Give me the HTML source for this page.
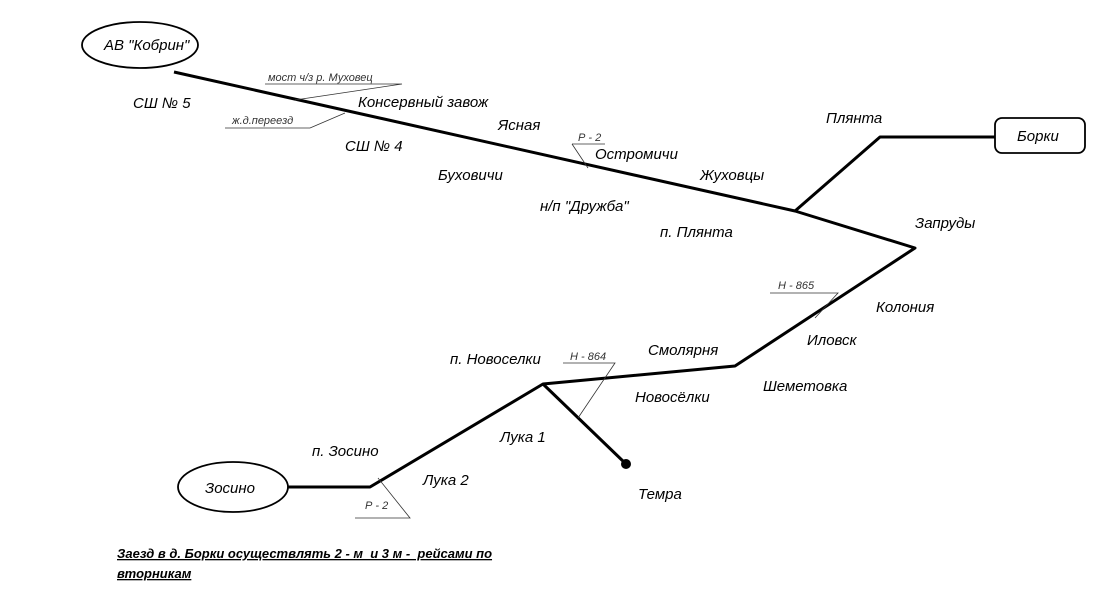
<!DOCTYPE html>
<html><head><meta charset="utf-8"><style>
html,body{margin:0;padding:0;background:#fff;}
svg{display:block;}
text{font-family:"Liberation Sans",Arial,sans-serif;font-style:italic;fill:#000;white-space:pre;}
.l{font-size:15px;}
.s{font-size:11px;fill:#333;}
.b{font-size:13px;font-weight:bold;text-decoration:underline;}
</style></head><body>
<svg width="1100" height="601" viewBox="0 0 1100 601" xmlns="http://www.w3.org/2000/svg">
<g fill="none" stroke="#000" stroke-width="3" stroke-linejoin="round">
<polyline points="174,72 795,211 915,248 735,366 543,384 370,487 288,487"/>
<polyline points="795,211 880,137 995,137"/>
<line x1="543" y1="384" x2="626" y2="464"/>
</g>
<g fill="#fff" stroke="#000" stroke-width="1.8">
<ellipse cx="140" cy="45" rx="58" ry="23"/>
<ellipse cx="233" cy="487" rx="55" ry="25"/>
<rect x="995" y="118" width="90" height="35" rx="7"/>
</g>
<circle cx="626" cy="464" r="5" fill="#000"/>
<g stroke="#333" stroke-width="0.8" fill="none">
<polyline points="265,84 402,84 295,100"/>
<polyline points="225,128 310,128 345,113"/>
<polyline points="572,144 605,144"/><line x1="572" y1="144" x2="588" y2="168"/>
<polyline points="770,293 838,293 815,318"/>
<polyline points="563,363 615,363 578,418"/>
<polyline points="378,478 410,518 355,518"/>
</g>
<text class="s" x="268" y="81">мост ч/з р. Муховец</text>
<text class="s" x="232" y="124">ж.д.переезд</text>
<text class="s" x="578" y="141">Р - 2</text>
<text class="s" x="778" y="289">Н - 865</text>
<text class="s" x="570" y="360">Н - 864</text>
<text class="s" x="365" y="509">Р - 2</text>
<text class="l" x="104" y="50">АВ "Кобрин"</text>
<text class="l" x="1017" y="141">Борки</text>
<text class="l" x="205" y="493">Зосино</text>
<text class="l" x="133" y="108">СШ № 5</text>
<text class="l" x="358" y="107">Консервный завож</text>
<text class="l" x="498" y="130">Ясная</text>
<text class="l" x="345" y="151">СШ № 4</text>
<text class="l" x="595" y="159">Остромичи</text>
<text class="l" x="700" y="180">Жуховцы</text>
<text class="l" x="438" y="180">Буховичи</text>
<text class="l" x="540" y="211">н/п "Дружба"</text>
<text class="l" x="660" y="237">п. Плянта</text>
<text class="l" x="826" y="123">Плянта</text>
<text class="l" x="915" y="228">Запруды</text>
<text class="l" x="876" y="312">Колония</text>
<text class="l" x="807" y="345">Иловск</text>
<text class="l" x="648" y="355">Смолярня</text>
<text class="l" x="450" y="364">п. Новоселки</text>
<text class="l" x="763" y="391">Шеметовка</text>
<text class="l" x="635" y="402">Новосёлки</text>
<text class="l" x="500" y="442">Лука 1</text>
<text class="l" x="312" y="456">п. Зосино</text>
<text class="l" x="423" y="485">Лука 2</text>
<text class="l" x="638" y="499">Темра</text>
<text class="b" x="117" y="558">Заезд в д. Борки осуществлять 2 - м  и 3 м -  рейсами по</text>
<text class="b" x="117" y="578">вторникам</text>
</svg>
</body></html>
